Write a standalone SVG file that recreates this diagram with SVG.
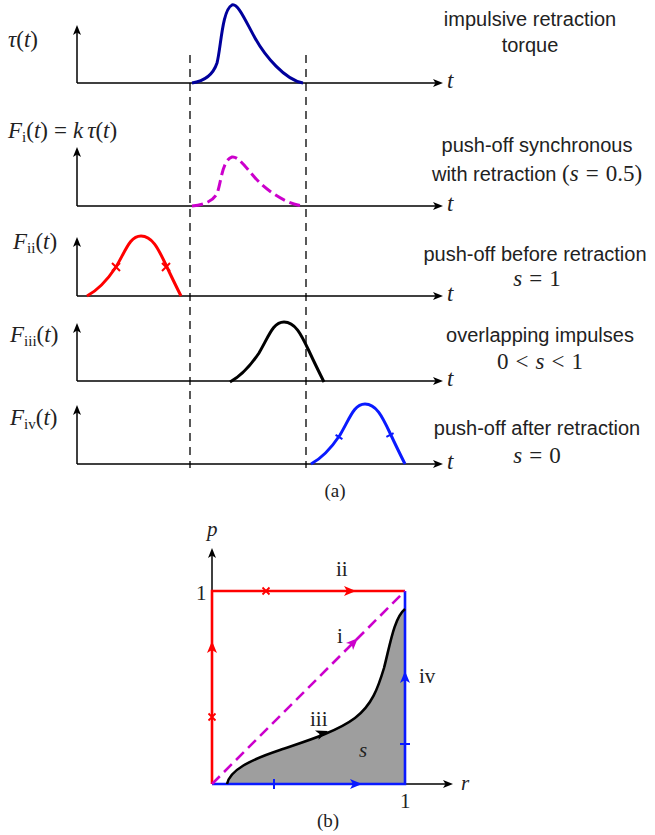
<svg xmlns="http://www.w3.org/2000/svg" xmlns:xlink="http://www.w3.org/1999/xlink" width="655" height="835" viewBox="0 0 655 835">
<style>
.ax{stroke:#000;stroke-width:1.5;fill:none}
.dash{stroke:#000;stroke-width:1.3;stroke-dasharray:8 6;fill:none}
.m{font-family:"Liberation Serif","DejaVu Serif",serif;font-size:23px;fill:#222}
.it{font-style:italic}
.sub{font-size:15px}
.lab{font-family:"Liberation Sans",Arial,sans-serif;font-size:20px;fill:#222;text-anchor:middle}
.cap{font-family:"Liberation Serif","DejaVu Serif",serif;font-size:19px;fill:#222;text-anchor:middle}
.bm{font-family:"Liberation Serif","DejaVu Serif",serif;font-size:21px;fill:#222}
.crv{fill:none;stroke-width:3;stroke-linecap:butt}
.edge{fill:none;stroke-width:2.6}
</style>
<defs>
<path id="ah" d="M0,0 L-10,-4 L-7.5,0 L-10,4 Z"/>
<path id="ahb" d="M0,0 L-12,-5 L-9,0 L-12,5 Z"/>
<path id="bump" d="M87,296 C100,289 108,279 116,267 C126,250 130,236 141,236 C152,236 158,248 166,265 C172,278 177,288 181,296"/>
</defs>

<g id="guides">
<line class="dash" x1="190" y1="55" x2="190" y2="468"/>
<line class="dash" x1="306" y1="55" x2="306" y2="468"/>
</g>

<g id="panel-tau">
<line class="ax" x1="77" y1="83" x2="77" y2="30"/>
<use xlink:href="#ah" transform="translate(77,25) rotate(-90)"/>
<line class="ax" x1="77" y1="83" x2="438" y2="83"/>
<use xlink:href="#ah" transform="translate(443,83)"/>
<text class="m it" x="447" y="88">t</text>
<text class="m" x="8" y="47"><tspan class="it">τ</tspan>(<tspan class="it">t</tspan>)</text>
<path class="crv" stroke="#00009c" d="M192,83 C205,81 213,75 217,63 C221,48 222,10 232,5 C238,3 245,20 255,38 C265,56 285,80 303,83"/>
<text class="lab" x="530" y="26">impulsive retraction</text>
<text class="lab" x="530" y="52">torque</text>
</g>

<g id="panel-i">
<line class="ax" x1="77" y1="206" x2="77" y2="152"/>
<use xlink:href="#ah" transform="translate(77,147) rotate(-90)"/>
<line class="ax" x1="77" y1="206" x2="438" y2="206"/>
<use xlink:href="#ah" transform="translate(443,206)"/>
<text class="m it" x="447" y="211">t</text>
<text class="m" x="8" y="138"><tspan class="it">F</tspan><tspan class="sub" dy="4">i</tspan><tspan dy="-4">(</tspan><tspan class="it">t</tspan>)<tspan dx="6">=</tspan><tspan class="it" dx="6">k</tspan><tspan class="it" dx="4">τ</tspan>(<tspan class="it">t</tspan>)</text>
<path class="crv" stroke="#cc00cc" stroke-dasharray="11 5" d="M192,206 C205,204.7 213,201 217,193.4 C221,184 222,160 232,157 C238,156 245,166.4 255,177.7 C265,189 285,204 303,206"/>
<text class="lab" x="537" y="152">push-off synchronous</text>
<text class="lab" x="537" y="181">with retraction <tspan class="m">(<tspan class="it">s</tspan><tspan dx="7">=</tspan><tspan dx="7">0.5)</tspan></tspan></text>
</g>

<g id="panel-ii">
<line class="ax" x1="77" y1="296" x2="77" y2="242"/>
<use xlink:href="#ah" transform="translate(77,237) rotate(-90)"/>
<line class="ax" x1="77" y1="296" x2="438" y2="296"/>
<use xlink:href="#ah" transform="translate(443,296)"/>
<text class="m it" x="447" y="301">t</text>
<text class="m" x="13" y="249"><tspan class="it">F</tspan><tspan class="sub" dy="4">ii</tspan><tspan dy="-4">(</tspan><tspan class="it">t</tspan>)</text>
<use xlink:href="#bump" class="crv" stroke="#ff0000"/>
<path stroke="#ff0000" stroke-width="2" d="M112,263 L120,271 M112,271 L120,263 M162,263 L170,271 M162,271 L170,263"/>
<text class="lab" x="535" y="261">push-off before retraction</text>
<text class="m" x="537" y="286" text-anchor="middle"><tspan class="it">s</tspan><tspan dx="7">=</tspan><tspan dx="7">1</tspan></text>
</g>

<g id="panel-iii">
<line class="ax" x1="77" y1="381" x2="77" y2="328"/>
<use xlink:href="#ah" transform="translate(77,323) rotate(-90)"/>
<line class="ax" x1="77" y1="381" x2="438" y2="381"/>
<use xlink:href="#ah" transform="translate(443,381)"/>
<text class="m it" x="447" y="386">t</text>
<text class="m" x="10" y="342"><tspan class="it">F</tspan><tspan class="sub" dy="4">iii</tspan><tspan dy="-4">(</tspan><tspan class="it">t</tspan>)</text>
<use xlink:href="#bump" class="crv" stroke="#000" transform="translate(143,86)"/>
<text class="lab" x="540" y="342">overlapping impulses</text>
<text class="m" x="540" y="369" text-anchor="middle">0<tspan dx="7">&lt;</tspan><tspan class="it" dx="7">s</tspan><tspan dx="7">&lt;</tspan><tspan dx="7">1</tspan></text>
</g>

<g id="panel-iv">
<line class="ax" x1="77" y1="464" x2="77" y2="410"/>
<use xlink:href="#ah" transform="translate(77,405) rotate(-90)"/>
<line class="ax" x1="77" y1="464" x2="438" y2="464"/>
<use xlink:href="#ah" transform="translate(443,464)"/>
<text class="m it" x="447" y="469">t</text>
<text class="m" x="10" y="425"><tspan class="it">F</tspan><tspan class="sub" dy="4">iv</tspan><tspan dy="-4">(</tspan><tspan class="it">t</tspan>)</text>
<use xlink:href="#bump" class="crv" stroke="#0a1aff" transform="translate(224,168)"/>
<path stroke="#0a1aff" stroke-width="2" d="M335.6,434.8 L342.4,439.2 M386.4,436.9 L393.6,433.1"/>
<text class="lab" x="537" y="435">push-off after retraction</text>
<text class="m" x="537" y="463" text-anchor="middle"><tspan class="it">s</tspan><tspan dx="7">=</tspan><tspan dx="7">0</tspan></text>
</g>

<text class="cap" x="335" y="497">(a)</text>

<g id="region-s">
<path fill="#9e9e9e" d="M227,784 C230,770 250,760 280,750 C300,743 335,733 355,718 C372,705 378,688 384,668 C390,645 394,618 405,609 L405,784 Z"/>
</g>
<g id="axes-b">
<line class="ax" stroke-width="1.3" x1="212" y1="784" x2="212" y2="553"/>
<use xlink:href="#ah" transform="translate(212,548) rotate(-90)"/>
<line class="ax" stroke-width="1.3" x1="212" y1="784" x2="448" y2="784"/>
<use xlink:href="#ah" transform="translate(453,784)"/>
<text class="bm it" x="207" y="536">p</text>
<text class="bm it" x="461" y="790">r</text>
<text class="bm" x="196" y="600">1</text>
<text class="bm" x="400" y="808">1</text>
</g>
<g id="connectors">
<g id="path-ii">
<path class="edge" stroke="#ff0000" d="M212,784 L212,591 L405,591"/>
<use xlink:href="#ahb" fill="#ff0000" transform="translate(356,591)"/>
<use xlink:href="#ahb" fill="#ff0000" transform="translate(212,641) rotate(-90)"/>
<path stroke="#ff0000" stroke-width="1.8" d="M262.5,587.5 L269.5,594.5 M262.5,594.5 L269.5,587.5 M208.5,713.5 L215.5,720.5 M208.5,720.5 L215.5,713.5"/>
</g>
<g id="path-iv">
<path class="edge" stroke="#0a1aff" d="M212,784 L405,784 L405,591"/>
<use xlink:href="#ahb" fill="#0a1aff" transform="translate(362,784)"/>
<use xlink:href="#ahb" fill="#0a1aff" transform="translate(405,671) rotate(-90)"/>
<path stroke="#0a1aff" stroke-width="2" d="M274,779 L274,789 M400,744 L410,744"/>
</g>
<g id="path-i">
<path fill="none" stroke="#cc00cc" stroke-width="2.6" stroke-dasharray="11 6" d="M212,784 L405,591"/>
<use xlink:href="#ahb" fill="#cc00cc" transform="translate(358,638) rotate(-45)"/>
</g>
<g id="path-iii">
<path fill="none" stroke="#000" stroke-width="2.6" d="M227,784 C230,770 250,760 280,750 C300,743 335,733 355,718 C372,705 378,688 384,668 C390,645 394,618 405,609"/>
<use xlink:href="#ahb" fill="#000" transform="translate(328,731) rotate(-20)"/>
</g>
</g>
<g id="labels-b">
<text class="bm" x="336" y="576">ii</text>
<text class="bm" x="337" y="643">i</text>
<text class="bm" x="419" y="683">iv</text>
<text class="bm" x="310" y="726">iii</text>
<text class="bm it" x="359" y="757">s</text>
</g>
<text class="cap" x="328" y="827">(b)</text>
</svg>
